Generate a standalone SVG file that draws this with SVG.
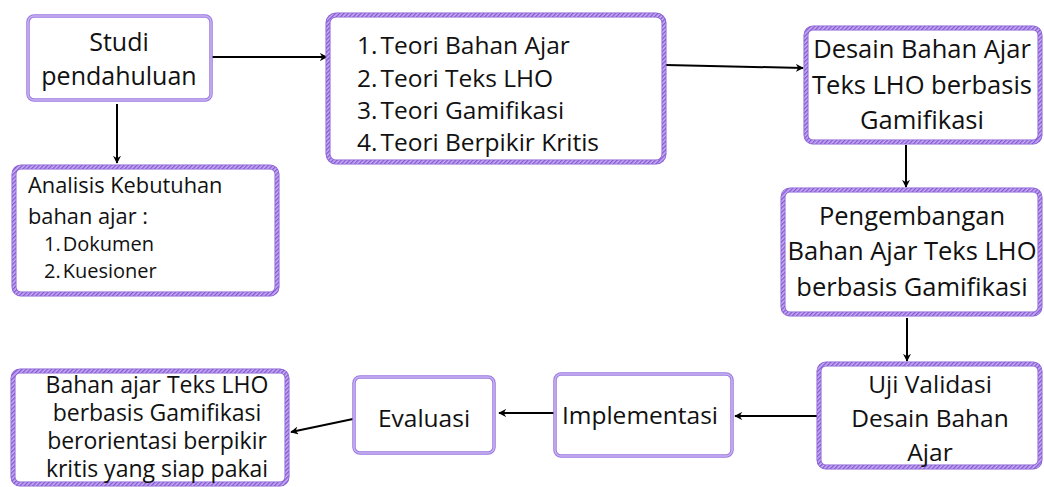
<svg xmlns="http://www.w3.org/2000/svg" width="1044" height="487" viewBox="0 0 1044 487">
<defs>
<pattern id="hatch" patternUnits="userSpaceOnUse" width="3" height="3" patternTransform="rotate(45)">
<rect width="3" height="3" fill="#c9b3f2"/>
<rect width="1.4" height="3" fill="#8557d6"/>
</pattern>
<marker id="arr" viewBox="0 0 10 10" refX="9" refY="5" markerWidth="4" markerHeight="4" orient="auto-start-reverse" markerUnits="strokeWidth">
<path d="M0,0 L10,5 L0,10 L3,5 Z" fill="#000"/>
</marker>
<style>
.bx{fill:#fff;stroke:#8a5fd6;stroke-width:5}
.bh{fill:none;stroke:url(#hatch);stroke-width:3.4}
.tx{fill:#fff;stroke:#9a78e0;stroke-width:3.5}
.th{fill:none;stroke:#c7b2f2;stroke-width:1.6}
text{font-family:"Open Sans","Noto Sans","DejaVu Sans",sans-serif;fill:#111}
.c{text-anchor:middle}
.ln{stroke:#000;stroke-width:2;fill:none;marker-end:url(#arr)}
</style>
</defs>
<rect width="1044" height="487" fill="#fff"/>

<g id="connectors">
<line class="ln" x1="212" y1="57" x2="327" y2="57"/>
<line class="ln" x1="117" y1="104" x2="117" y2="163"/>
<line class="ln" x1="666" y1="65" x2="803" y2="68"/>
<line class="ln" x1="906" y1="145" x2="906" y2="187"/>
<line class="ln" x1="907" y1="318" x2="907" y2="361"/>
<line class="ln" x1="817" y1="416" x2="735" y2="416"/>
<line class="ln" x1="554" y1="413" x2="499" y2="413"/>
<line class="ln" x1="353" y1="419" x2="291" y2="432"/>
</g>

<g id="studi">
<rect class="tx" x="28" y="16" width="183" height="84" rx="6"/>
<rect class="th" x="28" y="16" width="183" height="84" rx="6"/>
<text class="c" x="119" y="51" font-size="25">Studi</text>
<text class="c" x="119" y="85" font-size="25">pendahuluan</text>
</g>

<g id="analisis">
<rect class="bx" x="14" y="167" width="263" height="127" rx="7"/>
<rect class="bh" x="14" y="167" width="263" height="127" rx="7"/>
<text x="28" y="193" font-size="21.8">Analisis Kebutuhan</text>
<text x="28" y="224" font-size="21.8">bahan ajar :</text>
<text x="44" y="251" font-size="20">1.<tspan dx="2">Dokumen</tspan></text>
<text x="44" y="278" font-size="20">2.<tspan dx="2">Kuesioner</tspan></text>
</g>

<g id="teori">
<rect class="bx" x="328" y="15" width="336" height="147" rx="8"/>
<rect class="bh" x="328" y="15" width="336" height="147" rx="8"/>
<text x="357" y="54" font-size="24.5">1.<tspan dx="3">Teori Bahan Ajar</tspan></text>
<text x="357" y="87" font-size="24.5">2.<tspan dx="3">Teori Teks LHO</tspan></text>
<text x="357" y="119" font-size="24.5">3.<tspan dx="3">Teori Gamifikasi</tspan></text>
<text x="357" y="151" font-size="24.5">4.<tspan dx="3">Teori Berpikir Kritis</tspan></text>
</g>

<g id="desain">
<rect class="bx" x="806" y="28" width="234" height="114" rx="7"/>
<rect class="bh" x="806" y="28" width="234" height="114" rx="7"/>
<text class="c" x="922" y="58" font-size="25.5">Desain Bahan Ajar</text>
<text class="c" x="922" y="94" font-size="25.5">Teks LHO berbasis</text>
<text class="c" x="922" y="129" font-size="25.5">Gamifikasi</text>
</g>

<g id="pengembangan">
<rect class="bx" x="783" y="190" width="257" height="124" rx="7"/>
<rect class="bh" x="783" y="190" width="257" height="124" rx="7"/>
<text class="c" x="912" y="225" font-size="25.5">Pengembangan</text>
<text class="c" x="912" y="260" font-size="25.5">Bahan Ajar Teks LHO</text>
<text class="c" x="912" y="296" font-size="25.5">berbasis Gamifikasi</text>
</g>

<g id="uji">
<rect class="bx" x="819" y="364" width="221" height="103" rx="7"/>
<rect class="bh" x="819" y="364" width="221" height="103" rx="7"/>
<text class="c" x="930" y="393" font-size="24.5">Uji Validasi</text>
<text class="c" x="930" y="427" font-size="24.5">Desain Bahan</text>
<text class="c" x="930" y="461" font-size="24.5">Ajar</text>
</g>

<g id="implementasi">
<rect class="tx" x="555" y="374" width="177" height="82" rx="6"/>
<rect class="th" x="555" y="374" width="177" height="82" rx="6"/>
<text class="c" x="640" y="424" font-size="24.5">Implementasi</text>
</g>

<g id="evaluasi">
<rect class="tx" x="354" y="377" width="140" height="76" rx="6"/>
<rect class="th" x="354" y="377" width="140" height="76" rx="6"/>
<text class="c" x="424" y="427" font-size="24.5">Evaluasi</text>
</g>

<g id="hasil">
<rect class="bx" x="13" y="371" width="274" height="113" rx="7"/>
<rect class="bh" x="13" y="371" width="274" height="113" rx="7"/>
<text class="c" x="157" y="393" font-size="23">Bahan ajar Teks LHO</text>
<text class="c" x="157" y="421" font-size="23">berbasis Gamifikasi</text>
<text class="c" x="157" y="449" font-size="23">berorientasi berpikir</text>
<text class="c" x="157" y="477" font-size="23">kritis yang siap pakai</text>
</g>
</svg>
